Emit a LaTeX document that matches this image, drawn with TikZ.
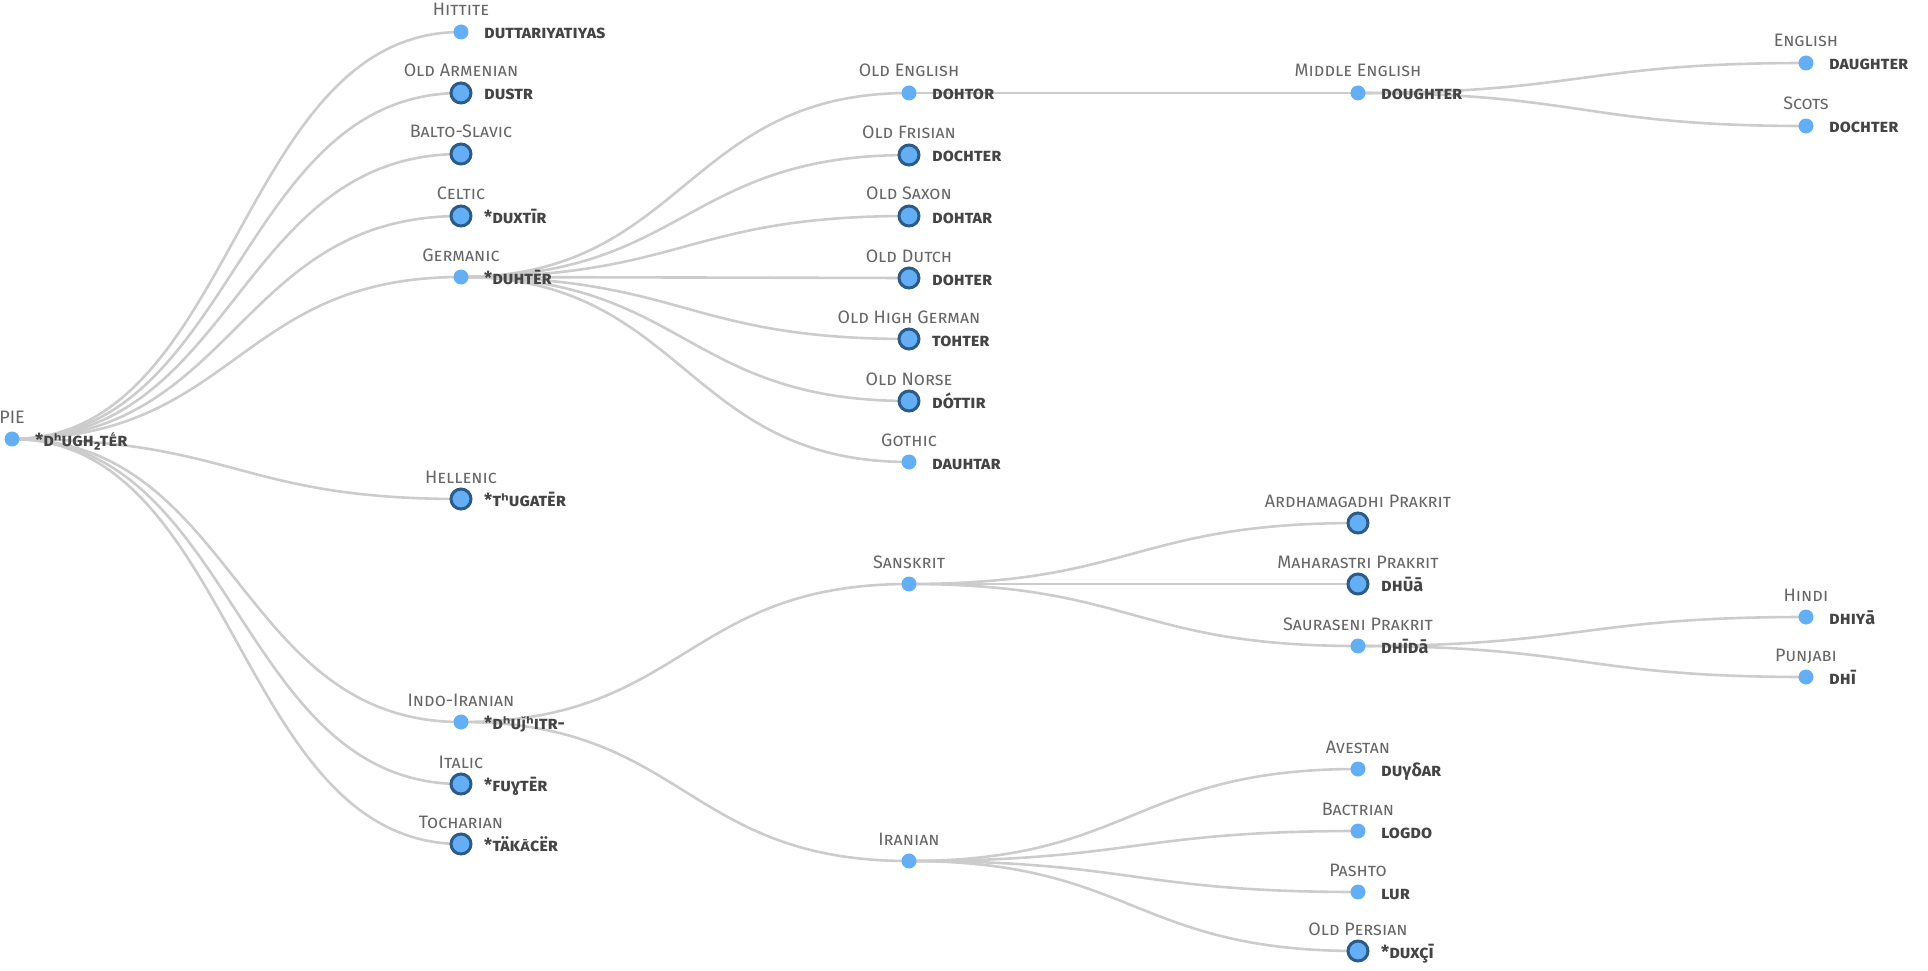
\documentclass[tikz,border=0pt]{standalone}
\usepackage{fontspec}
\setmainfont{Fira Sans}[Letters=SmallCaps]
\newfontfamily\plainf{Fira Sans}
\newfontfamily\dvf{DejaVu Sans}
\usetikzlibrary{calc,backgrounds}
\definecolor{dotfill}{HTML}{63AEF5}
\definecolor{dotline}{HTML}{2D5B87}
\definecolor{linkc}{HTML}{CCCCCC}
\definecolor{labc}{HTML}{666666}
\definecolor{glc}{HTML}{444444}
\newcommand\smc[1]{{\dvf\bfseries\fontsize{13}{15}\selectfont #1}}
\newcommand\lc[1]{{\plainf\bfseries #1}}
\newcommand\sh{{\dvf\bfseries\fontsize{17}{20}\selectfont ʰ}}
\tikzset{
  dotA/.style={circle, fill=dotfill, inner sep=0pt, minimum size=15pt},
  dotB/.style={circle, fill=dotfill, draw=dotline, line width=3pt, inner sep=0pt, minimum size=20pt},
  lab/.style={font=\fontsize{18}{21}\selectfont, text=labc, anchor=base, inner sep=0pt},
  gl/.style={font=\fontsize{18}{21}\selectfont\bfseries, text=glc, anchor=base west, inner sep=0pt},
  link/.style={draw=linkc, line width=2.6pt}
}
\newcommand\tnode[6]{%
  \node[#4] (#1) at (#2,#3) {};
  \node[lab] (#1-l) at ([yshift=16pt]#1.center) {#5};
  \def\glosstext{#6}%
  \ifx\glosstext\empty\else
    \node[gl] (#1-g) at ([xshift=23pt,yshift=-7pt]#1.center) {#6};
  \fi
}
\newcommand\lnk[2]{%
  \draw[link] let \p1=(#1.center), \p2=(#2.center) in
    (\p1) .. controls ({(\x1+\x2)/2},\y1) and ({(\x1+\x2)/2},\y2) .. (\p2);
}
\begin{document}
\begin{tikzpicture}[x=1pt,y=-1pt]
\useasboundingbox (0,0) rectangle (1928,971);
\tnode{pie}{12}{439}{dotA}{PIE}{*d\sh ugh₂t\smc{Ḗ}r}
\tnode{hit}{461}{32}{dotA}{Hittite}{duttariyatiyas}
\tnode{oarm}{461}{93}{dotB}{Old Armenian}{dustr}
\tnode{bs}{461}{154}{dotB}{Balto-Slavic}{}
\tnode{celt}{461}{216}{dotB}{Celtic}{*duxtīr}
\tnode{germ}{461}{277}{dotA}{Germanic}{*duhtēr}
\tnode{hell}{461}{499}{dotB}{Hellenic}{*t\sh ugatēr}
\tnode{ii}{461}{722}{dotA}{Indo-Iranian}{*d\sh u\smc{J̌}\sh itr-}
\tnode{ital}{461}{784}{dotB}{Italic}{*fuɣtēr}
\tnode{toch}{461}{844}{dotB}{Tocharian}{*täk\smc{Ā́}cër}
\tnode{oe}{909}{93}{dotA}{Old English}{dohtor}
\tnode{ofr}{909}{155}{dotB}{Old Frisian}{dochter}
\tnode{osax}{909}{216}{dotB}{Old Saxon}{dohtar}
\tnode{odu}{909}{278}{dotB}{Old Dutch}{dohter}
\tnode{ohg}{909}{339}{dotB}{Old High German}{tohter}
\tnode{onr}{909}{401}{dotB}{Old Norse}{dóttir}
\tnode{goth}{909}{462}{dotA}{Gothic}{dauhtar}
\tnode{me}{1358}{93}{dotA}{Middle English}{doughter}
\tnode{eng}{1806}{63}{dotA}{English}{daughter}
\tnode{sco}{1806}{126}{dotA}{Scots}{dochter}
\tnode{skt}{909}{584}{dotA}{Sanskrit}{}
\tnode{ira}{909}{861}{dotA}{Iranian}{}
\tnode{ardh}{1358}{523}{dotB}{Ardhamagadhi Prakrit}{}
\tnode{maha}{1358}{584}{dotB}{Maharastri Prakrit}{dhū\lc{ā}}
\tnode{saur}{1358}{646}{dotA}{Sauraseni Prakrit}{dhīd\lc{ā}}
\tnode{hin}{1806}{617}{dotA}{Hindi}{dhiy\lc{ā}}
\tnode{pun}{1806}{677}{dotA}{Punjabi}{dhī}
\tnode{ave}{1358}{769}{dotA}{Avestan}{du\lc{γδ}ar}
\tnode{bac}{1358}{831}{dotA}{Bactrian}{logdo}
\tnode{pas}{1358}{892}{dotA}{Pashto}{lur}
\tnode{ope}{1358}{951}{dotB}{Old Persian}{*duxçī}
\begin{pgfonlayer}{background}
\foreach \c in {hit,oarm,bs,celt,germ,hell,ii,ital,toch} {\lnk{pie}{\c}}
\foreach \c in {oe,ofr,osax,odu,ohg,onr,goth} {\lnk{germ}{\c}}
\lnk{oe}{me}
\lnk{me}{eng}
\lnk{me}{sco}
\lnk{ii}{skt}
\lnk{ii}{ira}
\foreach \c in {ardh,maha,saur} {\lnk{skt}{\c}}
\lnk{saur}{hin}
\lnk{saur}{pun}
\foreach \c in {ave,bac,pas,ope} {\lnk{ira}{\c}}
\end{pgfonlayer}
\end{tikzpicture}
\end{document}
